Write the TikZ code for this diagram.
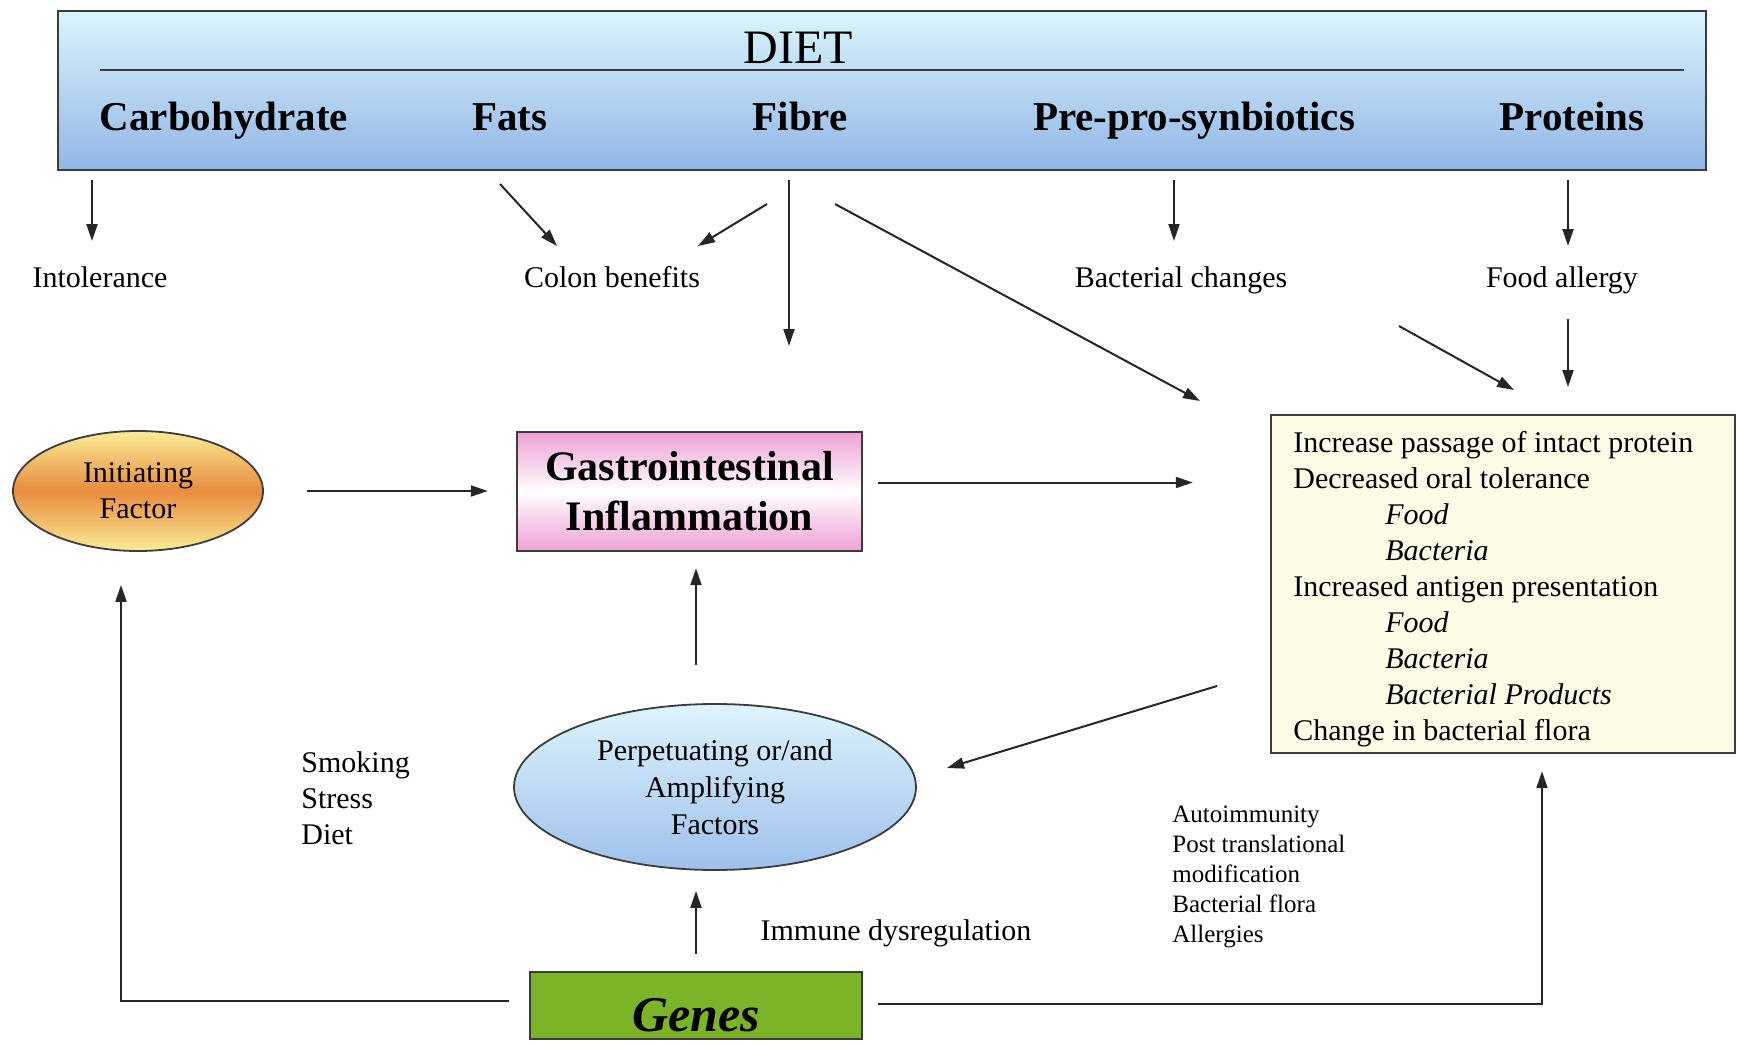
\documentclass[tikz,border=0pt]{standalone}
\usepackage{fontspec}
\setmainfont{Liberation Serif}
\usetikzlibrary{shapes.geometric,arrows.meta}

\definecolor{dietTop}{RGB}{218,245,252}
\definecolor{dietBot}{RGB}{146,182,230}
\definecolor{initOr}{RGB}{232,140,62}
\definecolor{initYe}{RGB}{250,236,150}
\definecolor{giPink}{RGB}{238,160,212}
\definecolor{perpTop}{RGB}{222,244,252}
\definecolor{perpBot}{RGB}{158,192,236}
\definecolor{flagBg}{RGB}{251,251,230}
\definecolor{genesGr}{RGB}{124,180,40}
\definecolor{edge}{RGB}{60,60,60}

\begin{document}
\begin{tikzpicture}[x=0.5pt,y=-0.5pt,
    arr/.style={-{Triangle[length=8.5pt,width=5.5pt]},line width=1pt,draw=black!85},
    head/.style={font=\fontsize{20.5}{24}\selectfont\bfseries,anchor=base},
    lbl/.style={font=\fontsize{15}{18}\selectfont,anchor=base},
    box/.style={draw=edge,line width=1.2pt,inner sep=0pt}]
  \useasboundingbox (0,0) rectangle (1737,1044);

  % diet bar
  \node[box,top color=dietTop,bottom color=dietBot,minimum width=824pt,minimum height=79.5pt] (diet) at (882,90.5) {};
  \node[font=\fontsize{24}{28}\selectfont,anchor=base] (dietlbl) at (798,63) {DIET};
  \draw[line width=1.2pt,edge] (100,70) -- (1684,70);
  \foreach \n/\x/\t in {carb/224/Carbohydrate,fats/510/Fats,fibre/800/Fibre,prepro/1194/Pre-pro-synbiotics,prot/1572/Proteins}
    \node[head] (\n) at (\x,130) {\t};
  \foreach \n/\x/\t in {intol/100/Intolerance,colon/612/Colon benefits,bact/1181/Bacterial changes,allergy/1562/Food allergy}
    \node[lbl] (\n) at (\x,287) {\t};

  % main boxes
  \node[ellipse,draw=edge,line width=0.9pt,inner sep=0pt,top color=initYe,bottom color=initYe,middle color=initOr,
    minimum width=125pt,minimum height=60pt,align=center,font=\fontsize{15}{18}\selectfont] (init) at (138,491) {Initiating\\Factor};
  \node[box,top color=giPink,bottom color=giPink,middle color=white,minimum width=172.5pt,minimum height=59.5pt,
    align=center,font=\fontsize{21}{25}\selectfont\bfseries] (gi) at (689.5,491.5) {Gastrointestinal\\Inflammation};
  \node[box,fill=flagBg,minimum width=232pt,minimum height=169pt] (flag) at (1503,584) {};
  \node[anchor=north west,align=left,inner sep=0pt,font=\fontsize{15}{18}\selectfont] (flagtxt) at (1293,431)
    {Increase passage of intact protein\\Decreased oral tolerance\\\hspace*{46pt}\textit{Food}\\\hspace*{46pt}\textit{Bacteria}\\
     Increased antigen presentation\\\hspace*{46pt}\textit{Food}\\\hspace*{46pt}\textit{Bacteria}\\\hspace*{46pt}\textit{Bacterial Products}\\
     Change in bacterial flora};
  \node[ellipse,draw=edge,line width=0.9pt,inner sep=0pt,top color=perpTop,bottom color=perpBot,
    minimum width=201pt,minimum height=83pt,align=center,font=\fontsize{15}{18.5}\selectfont] (perp) at (715,787) {Perpetuating or/and\\Amplifying\\Factors};
  \node[box,fill=genesGr,minimum width=166pt,minimum height=33.5pt] (genes) at (696,1005.5) {};
  \node[font=\fontsize{25}{30}\selectfont\bfseries\itshape,anchor=base] (geneslbl) at (696,1031) {Genes};

  \node[anchor=north west,align=left,inner sep=0pt,font=\fontsize{15}{18}\selectfont] (risk) at (301,751) {Smoking\\Stress\\Diet};
  \node[lbl] (immune) at (896,940) {Immune dysregulation};
  \node[anchor=north west,align=left,inner sep=0pt,font=\fontsize{12.5}{15}\selectfont] (mech) at (1172,806)
    {Autoimmunity\\Post translational\\modification\\Bacterial flora\\Allergies};

  % free arrow ends
  \foreach \n/\p in {carbE/{92,241},preE/{1174,241},protE/{1568,246},fibD/{789,346},
      fatS/{500,184},fatE/{557,246},fibS/{767,204},fibE/{698,246},fibX/{835,204},fibY/{1200,401},
      bacS/{1399,326},bacE/{1514,390},algS/{1568,319},algE/{1568,387},perpS/{1217,686},perpE/{947,768}}
    \coordinate (\n) at (\p);
  \foreach \e in {carbE,fibD,preE,protE}
    \draw[arr,shorten <=4.5pt] (diet.south -| \e) -- (\e);
  \foreach \s/\e in {fatS/fatE,fibS/fibE,fibX/fibY,bacS/bacE,algS/algE,perpS/perpE}
    \draw[arr] (\s) -- (\e);

  \draw[arr,shorten <=21.5pt,shorten >=14pt] (init.east) -- (init.east -| gi.west);
  \draw[arr,shorten <=7.5pt,shorten >=38.5pt] ([yshift=4.5pt]gi.east) -- ([yshift=4.5pt]gi.east -| flag.west);
  \draw[arr,shorten <=19pt,shorten >=8pt] (perp.north -| genes.north) -- (gi.south -| genes.north);
  \draw[arr,shorten <=8.5pt,shorten >=10pt] (genes.north) -- (perp.south -| genes.north);
  \draw[arr,shorten <=10pt,shorten >=16.5pt] ([yshift=2.25pt]genes.west) -| ([xshift=-8.5pt]init.south);
  \draw[arr,shorten <=7.5pt,shorten >=8.5pt] ([yshift=0.75pt]genes.east) -| ([xshift=19.5pt]flag.south);
\end{tikzpicture}
\end{document}
